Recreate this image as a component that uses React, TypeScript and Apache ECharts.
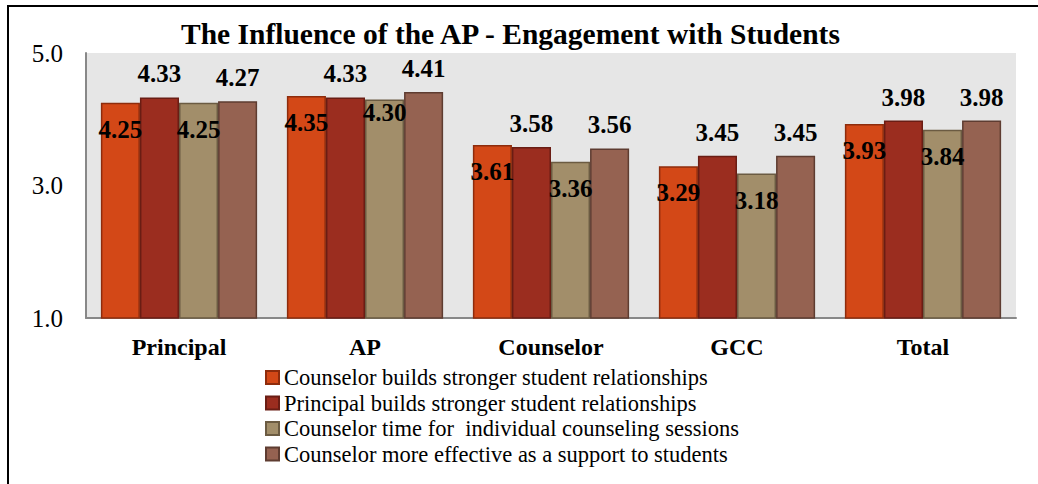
import React, { useEffect, useRef } from "react";
import * as echarts from "echarts";

const categories = ["Principal", "AP", "Counselor", "GCC", "Total"];
const seriesNames = [
  "Counselor builds stronger student relationships",
  "Principal builds stronger student relationships",
  "Counselor time for  individual counseling sessions",
  "Counselor more effective as a support to students",
];
const counselorRelationships = [4.25, 4.35, 3.61, 3.29, 3.93];
const principalRelationships = [4.33, 4.33, 3.58, 3.45, 3.98];
const counselorTime = [4.25, 4.3, 3.36, 3.18, 3.84];
const counselorEffective = [4.27, 4.41, 3.56, 3.45, 3.98];
const yTicks = { min: 1, max: 5, interval: 2 };

const fills = ["#D34817", "#9B2D1F", "#A28E6A", "#956251"];
const borders = ["#8E2C0C", "#6A1D14", "#6B5B42", "#5E3C31"];

const FONT = "Liberation Serif";

export default function App() {
  const ref = useRef<HTMLDivElement>(null);
  useEffect(() => {
    document.body.style.margin = "0";
    if (!ref.current) return;
    const chart = echarts.init(ref.current, null, { renderer: "svg" });
    const all = [counselorRelationships, principalRelationships, counselorTime, counselorEffective];
    const series = all.map((vals, i) => {
      const inside = i === 0 || i === 2;
      return {
        name: seriesNames[i],
        type: "bar",
        barGap: "0%",
        barCategoryGap: "16%",
        itemStyle: { color: fills[i], borderColor: borders[i], borderWidth: 1.5 },
        label: {
          show: true,
          position: inside ? "insideTop" : "top",
          distance: inside ? 14 : 11,
          formatter: (p: any) => Number(p.value).toFixed(2),
          color: "#000",
          fontFamily: FONT,
          fontWeight: "bold",
          fontSize: 25,
        },
        data: vals.map((v, j) =>
          i === 2 && j === 1
            ? { value: v, label: { distance: 1 } }
            : v
        ),
      };
    });
    chart.setOption({
      animation: false,
      backgroundColor: "#fff",
      textStyle: { fontFamily: FONT },
      title: {
        text: "The Influence of the AP - Engagement with Students",
        left: 176,
        top: 14,
        textStyle: { fontFamily: FONT, fontWeight: "bold", fontSize: 29.5, color: "#000" },
      },
      graphic: [
        {
          type: "rect",
          shape: { x: 8, y: 6, width: 1200, height: 700 },
          style: { fill: "none", stroke: "#000", lineWidth: 2 },
          silent: true,
        },
      ],
      grid: {
        left: 86,
        right: 22,
        top: 53,
        bottom: 166,
        show: true,
        backgroundColor: "#E6E6E6",
        borderWidth: 0,
      },
      legend: {
        orient: "vertical",
        left: 260,
        top: 361,
        padding: 5,
        itemWidth: 13,
        itemHeight: 13,
        itemGap: 2.5,
        icon: "rect",
        textStyle: { fontFamily: FONT, fontSize: 22.5, color: "#000", lineHeight: 22 },
        data: seriesNames,
      },
      xAxis: {
        type: "category",
        data: categories,
        axisLine: { show: true, lineStyle: { color: "#888", width: 2 } },
        axisTick: { show: false },
        axisLabel: {
          fontFamily: FONT,
          fontWeight: "bold",
          fontSize: 24,
          color: "#000",
          margin: 17,
        },
      },
      yAxis: {
        type: "value",
        min: yTicks.min,
        max: yTicks.max,
        interval: yTicks.interval,
        axisLine: { show: true, lineStyle: { color: "#888", width: 2 } },
        axisTick: { show: false },
        splitLine: { show: false },
        axisLabel: {
          fontFamily: FONT,
          fontSize: 25,
          color: "#000",
          margin: 23,
          formatter: (v: number) => v.toFixed(1),
        },
      },
      series,
    });
    return () => chart.dispose();
  }, []);
  return <div ref={ref} style={{ width: 1038, height: 484 }} />;
}
